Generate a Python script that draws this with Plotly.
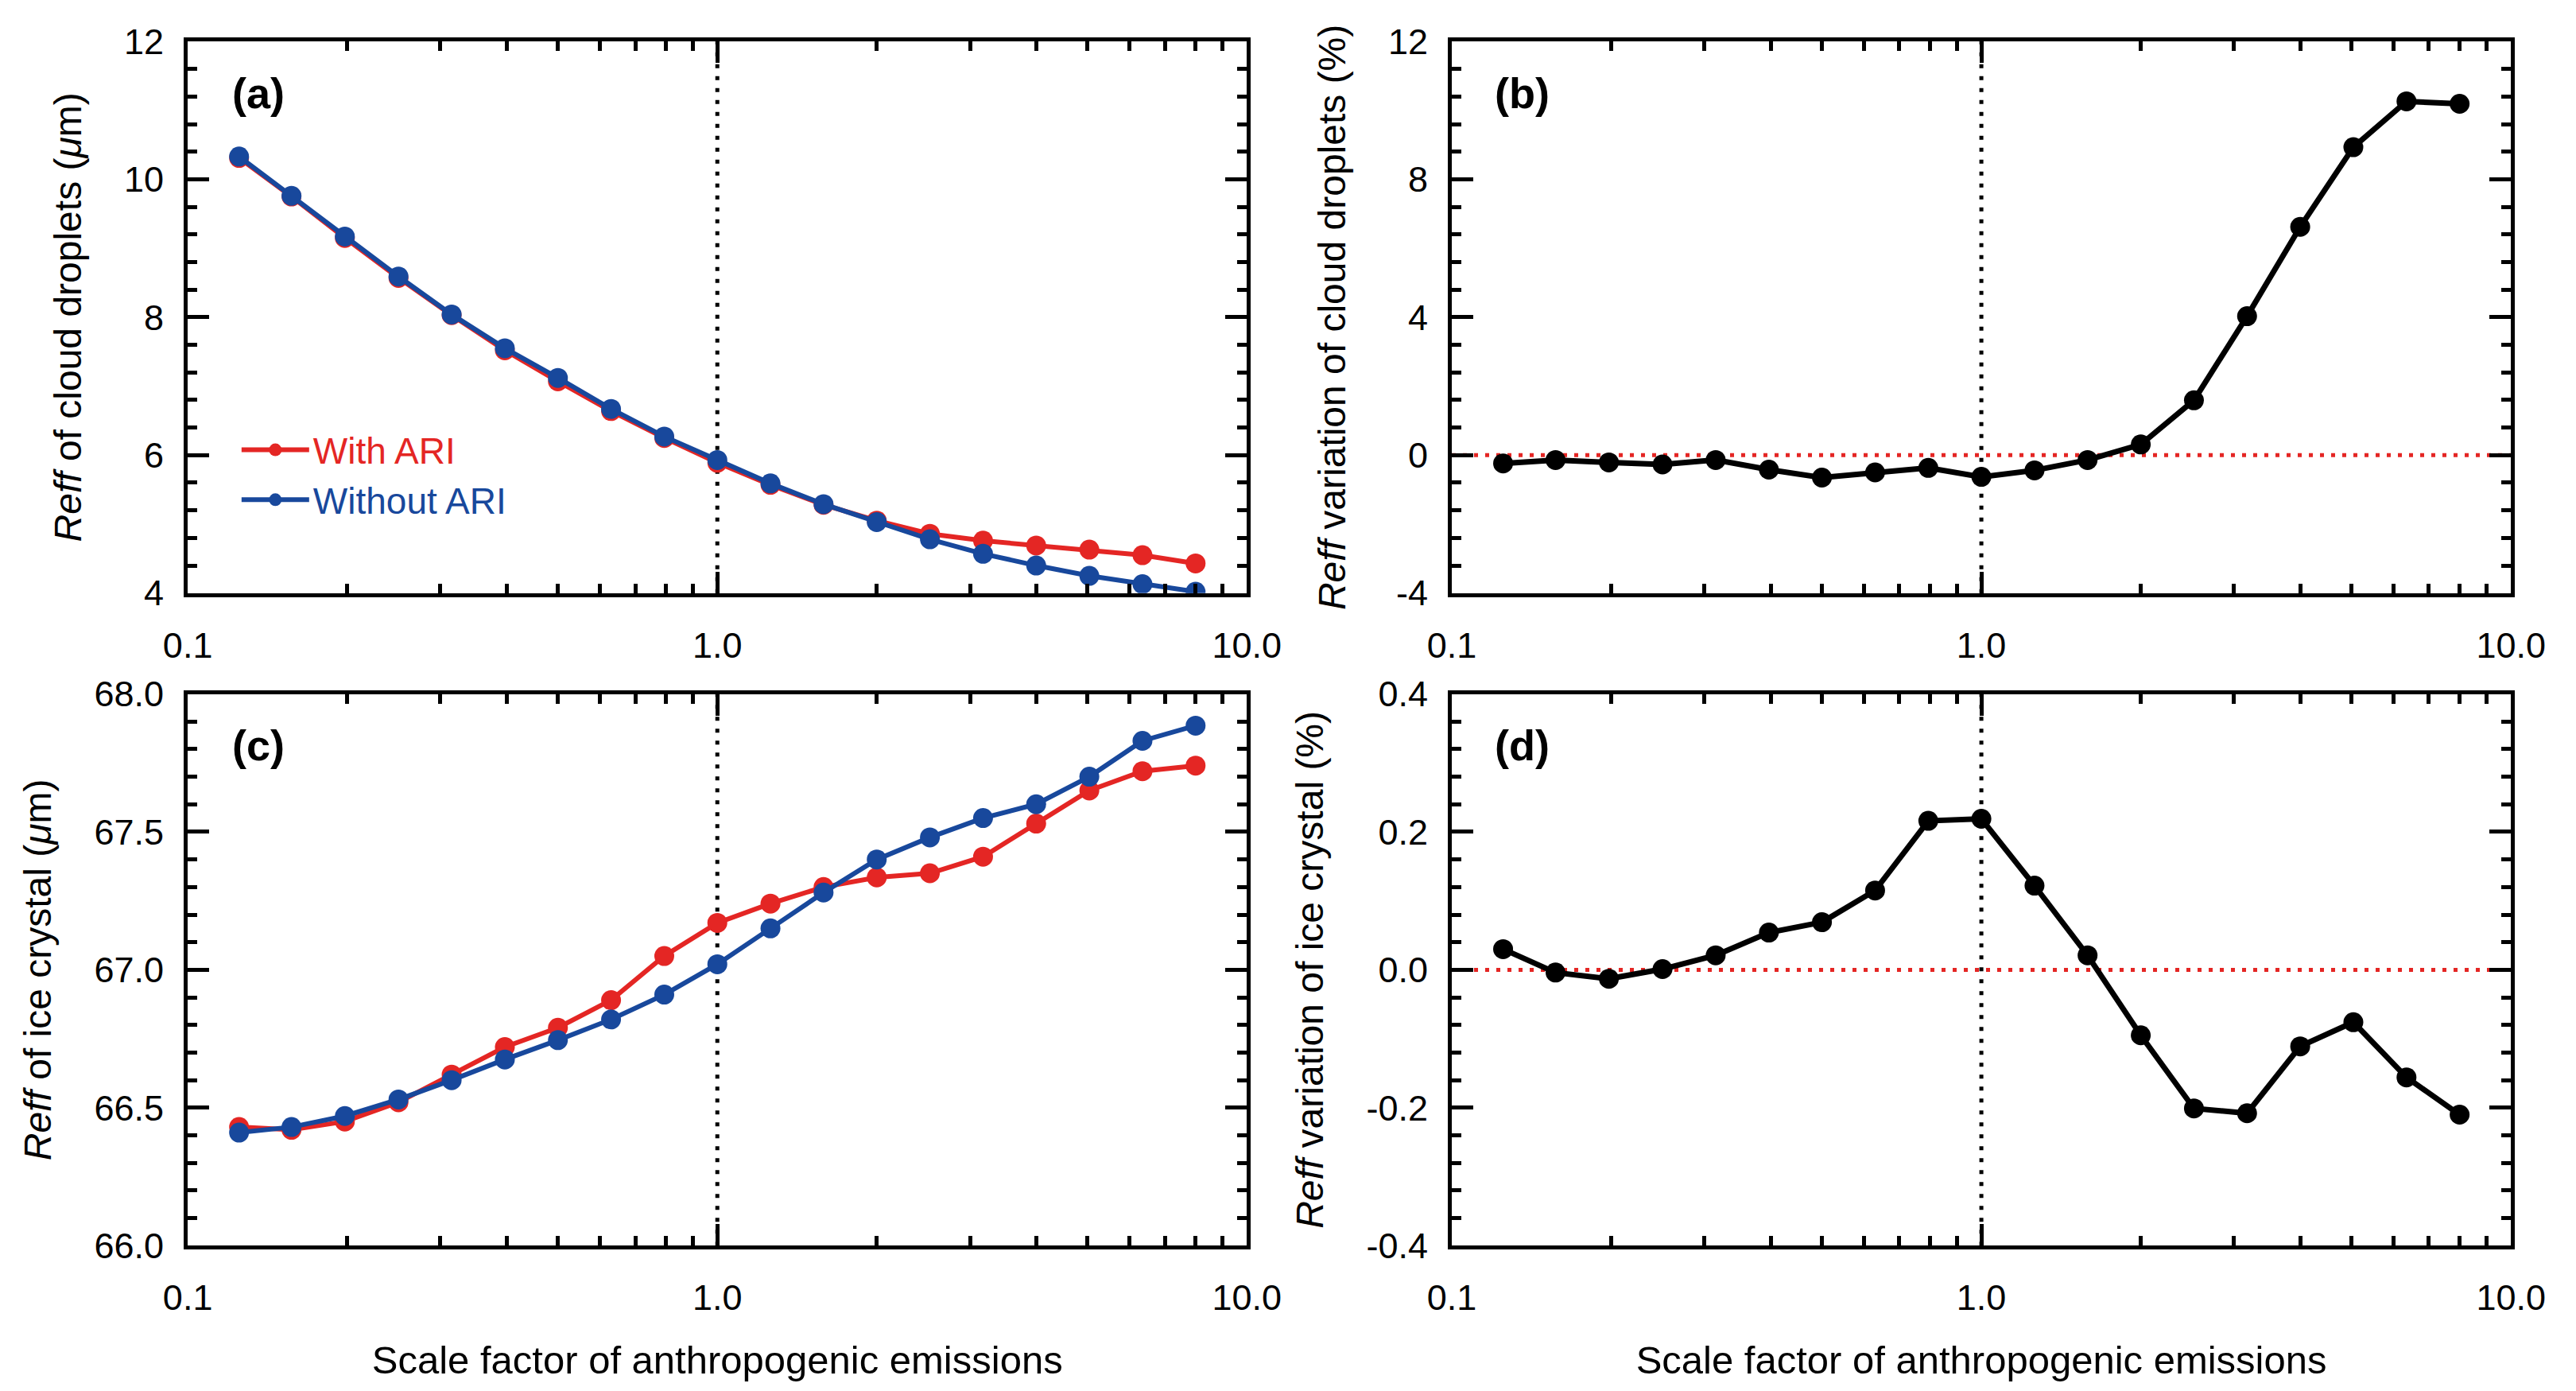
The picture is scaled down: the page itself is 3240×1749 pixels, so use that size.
import plotly.graph_objects as go

# scale factor of anthropogenic emissions (x for every panel)
scale_factor = [0.125, 0.157, 0.198, 0.25, 0.315, 0.397, 0.5, 0.63, 0.794, 1.0,
                1.26, 1.587, 2.0, 2.52, 3.175, 4.0, 5.04, 6.35, 8.0]

# (a) Reff of cloud droplets (um)
droplet_with_ari = [10.31, 9.75, 9.15, 8.57, 8.03, 7.52, 7.07, 6.64, 6.25, 5.89,
                    5.57, 5.28, 5.05, 4.86, 4.76, 4.69, 4.63, 4.55, 4.43]
droplet_without_ari = [10.33, 9.76, 9.17, 8.59, 8.04, 7.55, 7.12, 6.67, 6.27, 5.93,
                       5.59, 5.29, 5.03, 4.78, 4.57, 4.40, 4.25, 4.13, 4.02]
# (b) Reff variation of cloud droplets (%)
droplet_change = [-0.24, -0.14, -0.21, -0.27, -0.14, -0.42, -0.65, -0.50, -0.37, -0.63,
                  -0.44, -0.14, 0.31, 1.59, 4.03, 6.62, 8.93, 10.26, 10.19]
# (c) Reff of ice crystal (um)
ice_with_ari = [66.43, 66.42, 66.45, 66.52, 66.62, 66.72, 66.79, 66.89, 67.05, 67.17,
                67.24, 67.30, 67.335, 67.35, 67.41, 67.53, 67.65, 67.72, 67.74]
ice_without_ari = [66.41, 66.43, 66.47, 66.53, 66.60, 66.675, 66.745, 66.82, 66.91, 67.02,
                   67.15, 67.28, 67.40, 67.48, 67.55, 67.60, 67.70, 67.83, 67.885]
# (d) Reff variation of ice crystal (%)
ice_change = [0.030, -0.004, -0.013, 0.001, 0.021, 0.054, 0.069, 0.115, 0.216, 0.219,
              0.122, 0.021, -0.095, -0.201, -0.208, -0.111, -0.076, -0.156, -0.210]

# x axis: short ticks at every digit, long ticks + labels at the decades
x_tickvals = [0.1, 0.2, 0.3, 0.4, 0.5, 0.6, 0.7, 0.8, 0.9,
              1.0, 2, 3, 4, 5, 6, 7, 8, 9, 10.0]
x_ticktext = ["0.1", "", "", "", "", "", "", "", "",
              "1.0", "", "", "", "", "", "", "", "", "10.0"]
x_decades = [0.1, 1.0, 10.0]

ya_ticks = [4, 6, 8, 10, 12]
yb_ticks = [-4, 0, 4, 8, 12]
yb_text = ["-4", "0", "4", "8", "12"]
yc_ticks = [66.0, 66.5, 67.0, 67.5, 68.0]
yc_text = ["66.0", "66.5", "67.0", "67.5", "68.0"]
yd_ticks = [-0.4, -0.2, 0.0, 0.2, 0.4]
yd_text = ["-0.4", "-0.2", "0.0", "0.2", "0.4"]

panel_labels = ["(a)", "(b)", "(c)", "(d)"]

RED = "#E42624"
BLUE = "#18489C"
FONT = "Liberation Sans, Arial, Helvetica, sans-serif"
W, H = 3240, 1749
# margins big enough that automargin has nothing to push
ML, MR, MT, MB = 60, 40, 40, 35
PW, PH = W - ML - MR, H - MT - MB


def px_x(px):
    return (px - ML) / PW


def px_y(py):
    return (H - MB - py) / PH


fig = go.Figure()


def add_line(xa, ya, y, color, name=None, legend=False, lw=6):
    fig.add_trace(go.Scatter(
        x=scale_factor, y=y, xaxis=xa, yaxis=ya, mode="lines+markers",
        line=dict(color=color, width=lw), marker=dict(color=color, size=25),
        name=name, showlegend=legend))


add_line("x", "y", droplet_with_ari, RED,
         "<span style='color:%s'>With ARI</span>" % RED, True)
add_line("x", "y", droplet_without_ari, BLUE,
         "<span style='color:%s'>Without ARI</span>" % BLUE, True)
add_line("x2", "y2", droplet_change, "black", lw=7)
add_line("x3", "y3", ice_with_ari, RED)
add_line("x3", "y3", ice_without_ari, BLUE)
add_line("x4", "y4", ice_change, "black", lw=7)

col_dom = [[px_x(229), px_x(1568)], [px_x(1827), px_x(3166)]]
row_dom = [[px_y(739), px_y(44)], [px_y(1561), px_y(866)]]

axis_common = dict(
    showline=True, linewidth=5, linecolor="black", mirror="ticks",
    ticks="inside", tickwidth=5, tickcolor="black",
    showgrid=False, zeroline=False,
    tickfont=dict(family=FONT, size=45, color="black"),
)

yspecs = [
    ([4, 12], ya_ticks, [str(v) for v in ya_ticks], 0.4, 4,
     "<i>Reff</i> of cloud droplets (<i>μ</i>m)"),
    ([-4, 12], yb_ticks, yb_text, 0.8, -4,
     "<i>Reff</i> variation of cloud droplets (%)"),
    ([66.0, 68.0], yc_ticks, yc_text, 0.1, 66.0,
     "<i>Reff</i> of ice crystal (<i>μ</i>m)"),
    ([-0.4, 0.4], yd_ticks, yd_text, 0.04, -0.4,
     "<i>Reff</i> variation of ice crystal (%)"),
]

for i in range(4):
    row, col = divmod(i, 2)
    sfx = "" if i == 0 else str(i + 1)
    xa = dict(axis_common)
    xa.update(
        type="log", range=[-1, 1], domain=col_dom[col], anchor="y" + sfx,
        tickmode="array", tickvals=x_tickvals, ticktext=x_ticktext,
        ticklen=12, ticklabelstandoff=22,
        minor=dict(tickmode="array", tickvals=x_decades, ticks="inside",
                   ticklen=27, tickwidth=5, tickcolor="black"),
    )
    if row == 1:
        xa["title"] = dict(text="Scale factor of anthropogenic emissions",
                           font=dict(family=FONT, size=49, color="black"),
                           standoff=38)
    rng, tv, tt, mdt, m0, ytitle = yspecs[i]
    ya = dict(axis_common)
    ya.update(
        range=rng, domain=row_dom[row], anchor="x" + sfx,
        tickmode="array", tickvals=tv, ticktext=tt, ticklen=27,
        ticklabelstandoff=16,
        minor=dict(tick0=m0, dtick=mdt, ticks="inside", ticklen=12,
                   tickwidth=5, tickcolor="black"),
        title=dict(text=ytitle, font=dict(family=FONT, size=48, color="black"),
                   standoff=40),
    )
    fig.layout["xaxis" + sfx] = xa
    fig.layout["yaxis" + sfx] = ya

    # vertical dotted reference line at scale factor 1
    fig.add_shape(type="line", xref="x" + sfx, yref="y%s domain" % sfx,
                  x0=1, x1=1, y0=0, y1=1, layer="below",
                  line=dict(color="black", width=5, dash="5px,10px"))
    if col == 1:
        fig.add_shape(type="line", xref="x%s domain" % sfx, yref="y" + sfx,
                      x0=0, x1=1, y0=0, y1=0, layer="below",
                      line=dict(color=RED, width=5, dash="5px,9px"))

    fig.add_annotation(text="<b>%s</b>" % panel_labels[i],
                       xref="x%s domain" % sfx, yref="y%s domain" % sfx,
                       x=89 / 1339, y=1 - 65 / 695, xanchor="center",
                       yanchor="middle", showarrow=False,
                       font=dict(family=FONT, size=54, color="black"))

fig.update_layout(
    width=W, height=H,
    margin=dict(l=ML, r=MR, t=MT, b=MB),
    paper_bgcolor="white", plot_bgcolor="white",
    font=dict(family=FONT, color="black"),
    legend=dict(x=px_x(292), y=px_y(522), xanchor="left", yanchor="top",
                bgcolor="rgba(0,0,0,0)", font=dict(family=FONT, size=46),
                itemwidth=85, tracegroupgap=0),
)

fig.write_html("out.html")
